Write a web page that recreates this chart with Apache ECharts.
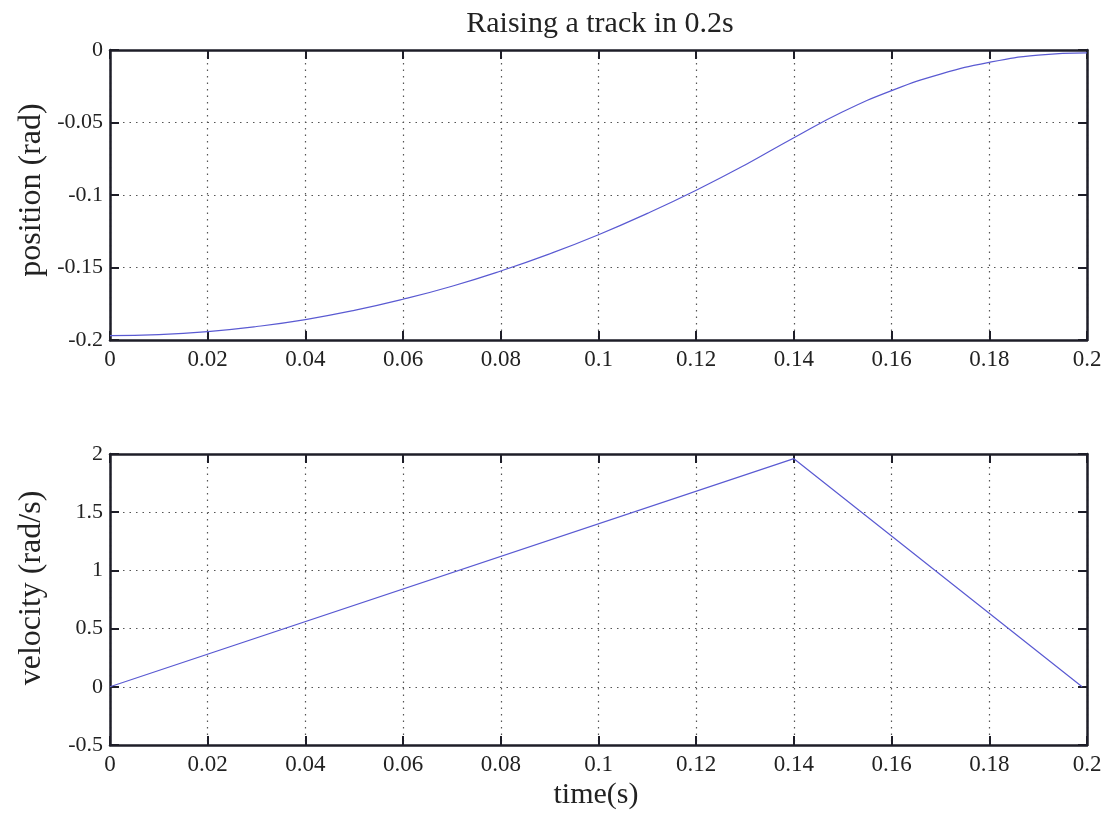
<!DOCTYPE html>
<html>
<head>
<meta charset="utf-8">
<script src="https://cdn.jsdelivr.net/npm/echarts@6/dist/echarts.min.js"></script>
<style>
  html, body { margin: 0; padding: 0; background: #fff; }
  #chart { width: 1111px; height: 817px; }
</style>
</head>
<body>
<div id="chart"></div>
<script>
// Track raising profile: time samples, position and velocity
const timeSamples = [0, 0.01, 0.02, 0.03, 0.04, 0.05, 0.06, 0.07, 0.08, 0.09, 0.10,
                     0.11, 0.12, 0.13, 0.14, 0.15, 0.16, 0.17, 0.18, 0.19, 0.20];
const positionRad = [-0.197, -0.1963, -0.1942, -0.1907, -0.1859, -0.1796, -0.1719, -0.1629,
                     -0.1524, -0.1406, -0.1274, -0.1127, -0.0967, -0.0793, -0.0605, -0.0426,
                     -0.028, -0.0166, -0.0085, -0.0036, -0.002];
const velocityTimes = [0, 0.14, 0.199];
const velocityRadS = [0, 1.96, 0];

const xTicks = [0, 0.02, 0.04, 0.06, 0.08, 0.1, 0.12, 0.14, 0.16, 0.18, 0.2];
const posTicks = [-0.2, -0.15, -0.1, -0.05, 0];
const velTicks = [-0.5, 0, 0.5, 1, 1.5, 2];

const titleText = 'Raising a track in 0.2s';
const posLabel = 'position (rad)';
const velLabel = 'velocity (rad/s)';
const timeLabel = 'time(s)';

const serif = 'Liberation Serif';
const ink = '#1e1e28';
const fmt = v => String(+v.toFixed(2));

function mainX(gridIndex) {
  return {
    gridIndex, type: 'value', min: xTicks[0], max: xTicks[xTicks.length - 1], interval: 0.02,
    position: 'bottom',
    axisLine: { show: true, onZero: false, lineStyle: { color: ink, width: 2.5 } },
    axisTick: { show: true, inside: true, length: 9, lineStyle: { color: ink, width: 2 } },
    axisLabel: { color: '#222', fontFamily: serif, fontSize: 23, margin: 8, formatter: fmt },
    splitLine: { show: true, lineStyle: { color: '#555', type: [1.5, 5], width: 1.2 } }
  };
}
function topX(gridIndex) {
  return {
    gridIndex, type: 'value', min: xTicks[0], max: xTicks[xTicks.length - 1], interval: 0.02,
    position: 'top',
    axisLine: { show: true, onZero: false, lineStyle: { color: ink, width: 2.5 } },
    axisTick: { show: true, inside: true, length: 9, lineStyle: { color: ink, width: 2 } },
    axisLabel: { show: false }, splitLine: { show: false }
  };
}
function mainY(gridIndex, ticks, interval) {
  return {
    gridIndex, type: 'value', min: ticks[0], max: ticks[ticks.length - 1], interval,
    position: 'left',
    axisLine: { show: true, onZero: false, lineStyle: { color: ink, width: 2.5 } },
    axisTick: { show: true, inside: true, length: 9, lineStyle: { color: ink, width: 2 } },
    axisLabel: { color: '#222', fontFamily: serif, fontSize: 22, margin: 7, formatter: fmt },
    splitLine: { show: true, lineStyle: { color: '#555', type: [1.5, 5], width: 1.2 } }
  };
}
function rightY(gridIndex, ticks, interval) {
  return {
    gridIndex, type: 'value', min: ticks[0], max: ticks[ticks.length - 1], interval,
    position: 'right',
    axisLine: { show: true, onZero: false, lineStyle: { color: ink, width: 2.5 } },
    axisTick: { show: true, inside: true, length: 9, lineStyle: { color: ink, width: 2 } },
    axisLabel: { show: false }, splitLine: { show: false }
  };
}

const chart = echarts.init(document.getElementById('chart'), null, { renderer: 'canvas' });

chart.setOption({
  backgroundColor: '#fff',
  animation: false,
  title: {
    text: titleText, left: 595, top: 4, textAlign: 'center',
    textStyle: { fontFamily: serif, fontSize: 30, fontWeight: 'normal', color: '#222' }
  },
  grid: [
    { left: 110, top: 50, width: 977, height: 290 },
    { left: 110, top: 454, width: 977, height: 291 }
  ],
  xAxis: [mainX(0), topX(0), mainX(1), topX(1)],
  yAxis: [
    mainY(0, posTicks, 0.05),
    rightY(0, posTicks, 0.05),
    mainY(1, velTicks, 0.5),
    rightY(1, velTicks, 0.5)
  ],
  graphic: [
    { type: 'text', x: 32, y: 190, rotation: Math.PI / 2,
      style: { text: posLabel, fontFamily: serif, fontSize: 32, fill: '#222',
               align: 'center', verticalAlign: 'middle' } },
    { type: 'text', x: 32, y: 588, rotation: Math.PI / 2,
      style: { text: velLabel, fontFamily: serif, fontSize: 32, fill: '#222',
               align: 'center', verticalAlign: 'middle' } },
    { type: 'text', x: 596, y: 795,
      style: { text: timeLabel, fontFamily: serif, fontSize: 30, fill: '#222',
               align: 'center', verticalAlign: 'middle' } }
  ],
  series: [
    {
      type: 'line', xAxisIndex: 0, yAxisIndex: 0, smooth: true, showSymbol: false,
      lineStyle: { color: '#5a5ad2', width: 1.2 },
      data: timeSamples.map((t, i) => [t, positionRad[i]])
    },
    {
      type: 'line', xAxisIndex: 2, yAxisIndex: 2, showSymbol: false,
      lineStyle: { color: '#5a5ad2', width: 1.2 },
      data: velocityTimes.map((t, i) => [t, velocityRadS[i]])
    }
  ]
});
</script>
</body>
</html>
